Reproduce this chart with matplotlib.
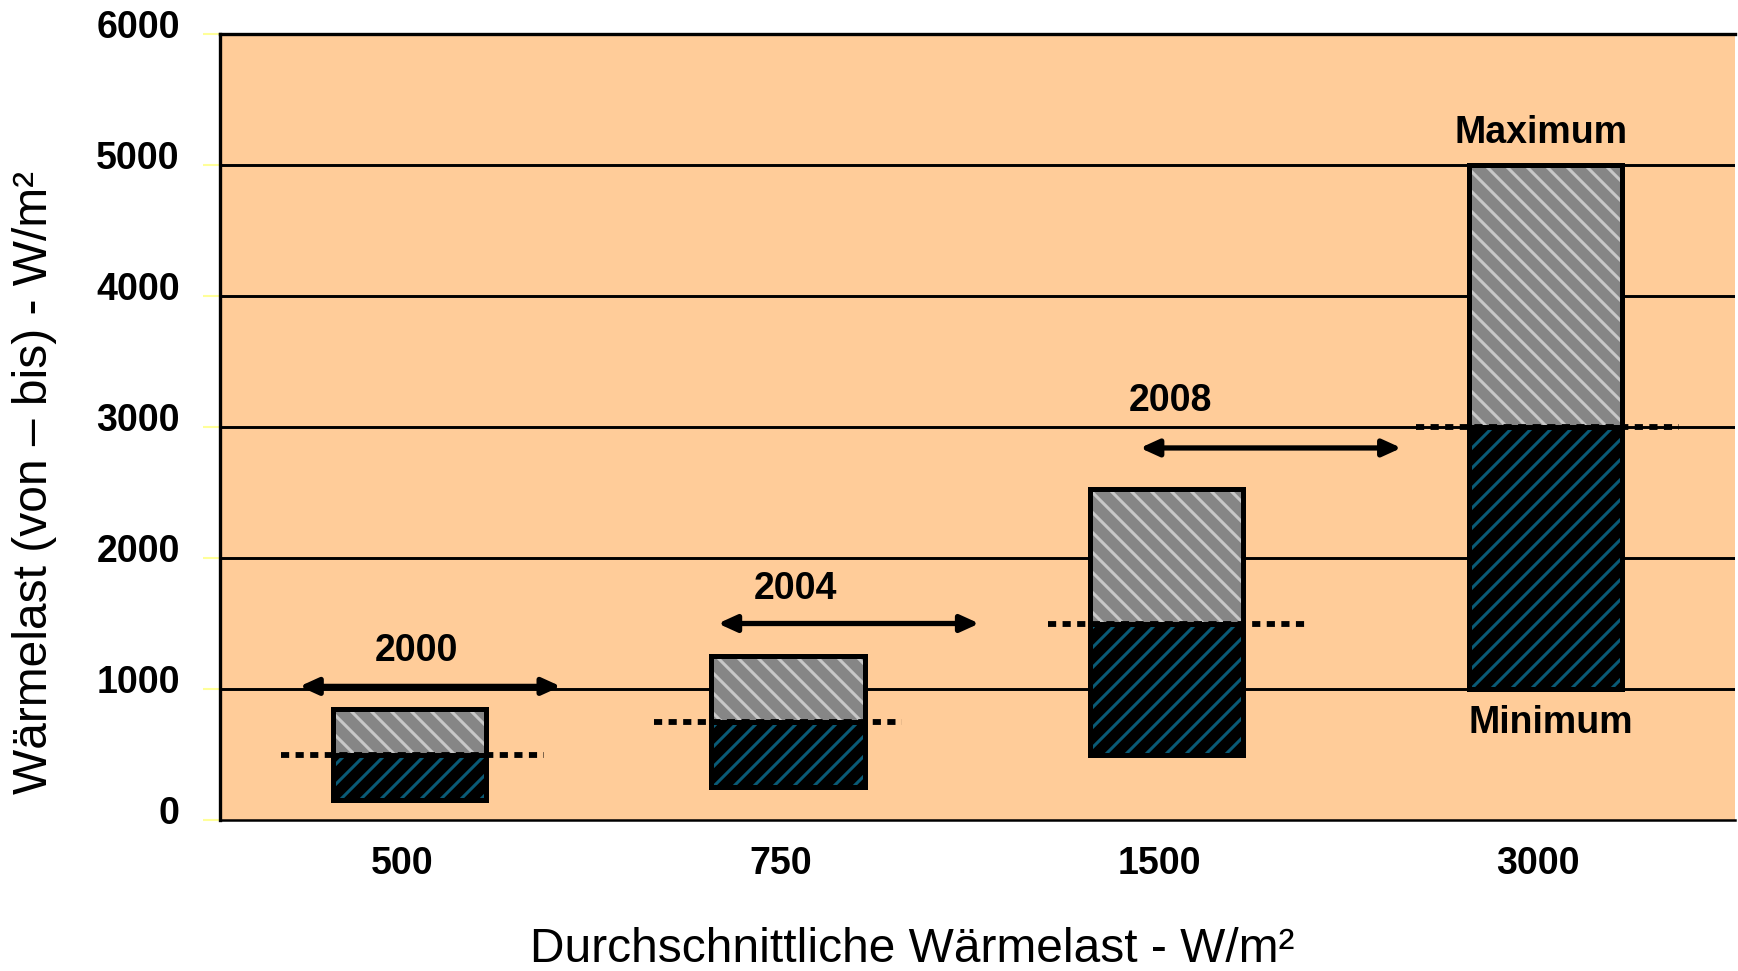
import matplotlib
matplotlib.use('Agg')
import matplotlib.pyplot as plt
import matplotlib.transforms as mtransforms
import numpy as np

# dpi 120 makes the '//' hatch period about 10 px, like the original
DPI = 120
k = 100 / DPI   # sizes below were tuned at 100 dpi

plt.rcParams['font.family'] = ['Liberation Sans', 'DejaVu Sans']
plt.rcParams['hatch.linewidth'] = 2.2 * k

# Data
categories = ['500', '750', '1500', '3000']
minimum = [150, 250, 500, 1000]
average = [500, 750, 1500, 3000]
maximum = [850, 1250, 2530, 5000]

years = ['2000', '2004', '2008']
year_arrow_y = [1020, 1500, 2840]
year_label_y = [1290, 1760, 3200]

# layout of the annotations on the categorical axis
year_label_x = [0.02, 1.02, 2.01]
arrow_from = [-0.29, 0.815, 1.93]
arrow_to = [0.40, 1.505, 2.62]
dot_from = [-0.34, 0.646, 1.686, 2.659]
dot_to = [0.355, 1.302, 2.372, 3.353]

fig = plt.figure(figsize=(1738 / DPI, 971 / DPI), dpi=DPI)
ax = fig.add_axes([0.1266, 0.1555, 0.8714, 0.8095])
ax.set_facecolor('#FFCC99')
ax.set_xlim(-0.5, 3.5)
ax.set_ylim(0, 6000)

# grid lines
for y in range(1000, 6000, 1000):
    ax.axhline(y, color='black', lw=2.1 * k, zorder=1)

x = np.arange(len(categories))
w = 0.405
lo = np.array(average) - np.array(minimum)
hi = np.array(maximum) - np.array(average)

# hatched fills
ax.bar(x, lo, w, bottom=minimum, color='black', edgecolor='#0A5A76',
       hatch='//', lw=0, zorder=2)
ax.bar(x, hi, w, bottom=average, color='#868686', edgecolor='#C8C8C8',
       hatch='\\\\', lw=0, zorder=2)
# black outlines
ax.bar(x, lo, w, bottom=minimum, fill=False, edgecolor='black', lw=3.6 * k, zorder=3)
ax.bar(x, hi, w, bottom=average, fill=False, edgecolor='black', lw=3.6 * k, zorder=3)

# dotted average lines
ax.hlines(average, dot_from, dot_to, colors='black', lw=4.2 * k,
          linestyles=(0, (1.4, 1.1)), zorder=4)

# year arrows
for yr, lx, ly, ay, a0, a1 in zip(years, year_label_x, year_label_y,
                                  year_arrow_y, arrow_from, arrow_to):
    ax.annotate('', xy=(a1, ay), xytext=(a0, ay),
                arrowprops=dict(arrowstyle='<|-|>,head_length=0.55,head_width=0.25',
                                lw=3.8 * k, color='black', shrinkA=0, shrinkB=0,
                                mutation_scale=20 * k), zorder=5)
    ax.text(lx, ly, yr, ha='center', va='center', fontsize=27 * k,
            fontweight='bold', zorder=5)

ax.text(2.99, 5244, 'Maximum', ha='center', va='center', fontsize=27 * k, fontweight='bold')
ax.text(3.016, 743, 'Minimum', ha='center', va='center', fontsize=27 * k, fontweight='bold')

# spines
ax.spines['right'].set_visible(False)
ax.spines['top'].set_linewidth(2.4 * k)
ax.spines['left'].set_linewidth(2.4 * k)
ax.spines['bottom'].set_linewidth(1.8 * k)
for s in ['top', 'left', 'bottom']:
    ax.spines[s].set_color('black')

# ticks
ax.set_yticks(range(0, 6001, 1000))
ax.set_xticks(x - 0.02, categories)
ax.tick_params(axis='y', length=12 * k, width=1.5 * k, color='#FFFF99',
               labelsize=27 * k, pad=17 * k)
ax.tick_params(axis='x', length=0, labelsize=27 * k, pad=19 * k)
for lab in ax.get_xticklabels() + ax.get_yticklabels():
    lab.set_fontweight('bold')
offset = mtransforms.ScaledTranslation(0, 10 / DPI, fig.dpi_scale_trans)
for t in ax.yaxis.get_major_ticks():
    t.label1.set_transform(t.label1.get_transform() + offset)

fig.text(35 / 1738, 1 - 482 / 971, 'Wärmelast (von – bis) - W/m²', rotation=90,
         ha='center', va='center', fontsize=34.5 * k)
fig.text(912 / 1738, 1 - 962 / 971, 'Durchschnittliche Wärmelast - W/m²',
         ha='center', va='baseline', fontsize=34.5 * k)

fig.savefig('out.png', dpi=DPI)
